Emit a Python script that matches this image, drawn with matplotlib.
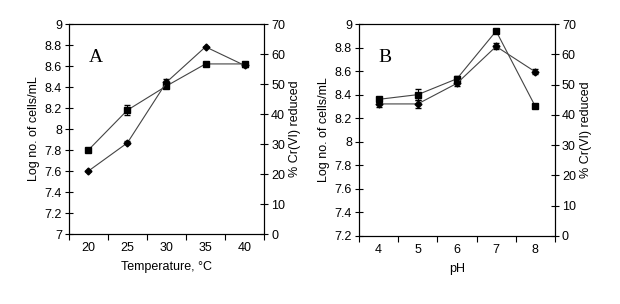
import matplotlib
matplotlib.use("Agg")
import matplotlib.pyplot as plt

plt.rcParams["font.family"] = ["Liberation Sans", "DejaVu Sans"]

# ---------- panel A: temperature ----------
temp_labels = ["20", "25", "30", "35", "40"]
temp_cells = [7.80, 8.18, 8.41, 8.62, 8.62]
temp_cells_err = [0.0, 0.05, 0.02, 0.0, 0.02]
temp_cr = [21.0, 30.4, 50.6, 62.4, 56.2]
temp_cr_err = [0.0, 0.5, 1.0, 0.0, 0.5]

# ---------- panel B: pH ----------
ph_labels = ["4", "5", "6", "7", "8"]
ph_cells = [8.36, 8.40, 8.535, 8.94, 8.30]
ph_cells_err = [0.02, 0.045, 0.02, 0.0, 0.0]
ph_cr = [43.6, 43.6, 50.4, 62.6, 54.2]
ph_cr_err = [1.0, 1.3, 1.0, 1.0, 0.8]

LINE = "#444444"
FS = 9


def panel(fig, rect, labels, cells, cells_err, cr, cr_err, ylim, yticks, ytlabels, xlabel, letter):
    ax = fig.add_axes(rect)
    x = [i + 0.5 for i in range(len(labels))]
    ax.errorbar(x, cells, yerr=cells_err, color=LINE, lw=0.8, marker="s", ms=5,
                mfc="black", mec="black", ecolor="black", elinewidth=0.8, capsize=2.5)
    ax.set_xlim(0, len(labels))
    ax.set_ylim(*ylim)
    ax.set_yticks(yticks)
    ax.set_yticklabels(ytlabels)
    ax.set_xticks(range(len(labels) + 1))
    ax.set_xticklabels([])
    ax.set_xticks(x, minor=True)
    ax.set_xticklabels(labels, minor=True)
    ax.tick_params(axis="x", which="minor", length=0, labelsize=FS, pad=6)
    ax.tick_params(axis="x", which="major", direction="out", length=4, width=0.8)
    ax.tick_params(axis="y", direction="inout", length=6, width=0.8, labelsize=FS, pad=2)
    ax.set_xlabel(xlabel, fontsize=FS, labelpad=5)
    ax.set_ylabel("Log no. of cells/mL", fontsize=FS, labelpad=3)
    for s in ax.spines.values():
        s.set_linewidth(0.8)
    ax.text(0.1, 0.82, letter, transform=ax.transAxes, fontsize=14,
            family=["Liberation Serif", "DejaVu Serif"])

    ax2 = ax.twinx()
    ax2.errorbar(x, cr, yerr=cr_err, color=LINE, lw=0.8, marker="D", ms=3.5,
                 mfc="black", mec="black", ecolor="black", elinewidth=0.8, capsize=2.5)
    ax2.set_ylim(0, 70)
    ax2.set_yticks(range(0, 71, 10))
    ax2.tick_params(axis="y", direction="inout", length=6, width=0.8, labelsize=FS, pad=2)
    ax2.set_ylabel("% Cr(VI) reduced", fontsize=FS, labelpad=3)
    return ax


fig = plt.figure(figsize=(6.2, 3.04), dpi=100)

panel(fig, [0.111, 0.230, 0.315, 0.691], temp_labels, temp_cells, temp_cells_err,
      temp_cr, temp_cr_err, (7, 9), [7, 7.2, 7.4, 7.6, 7.8, 8, 8.2, 8.4, 8.6, 8.8, 9],
      ["7", "7.2", "7.4", "7.6", "7.8", "8", "8.2", "8.4", "8.6", "8.8", "9"],
      "Temperature, °C", "A")

panel(fig, [0.579, 0.224, 0.316, 0.697], ph_labels, ph_cells, ph_cells_err,
      ph_cr, ph_cr_err, (7.2, 9), [7.2, 7.4, 7.6, 7.8, 8, 8.2, 8.4, 8.6, 8.8, 9],
      ["7.2", "7.4", "7.6", "7.8", "8", "8.2", "8.4", "8.6", "8.8", "9"],
      "pH", "B")

fig.savefig("out.png", dpi=100)
